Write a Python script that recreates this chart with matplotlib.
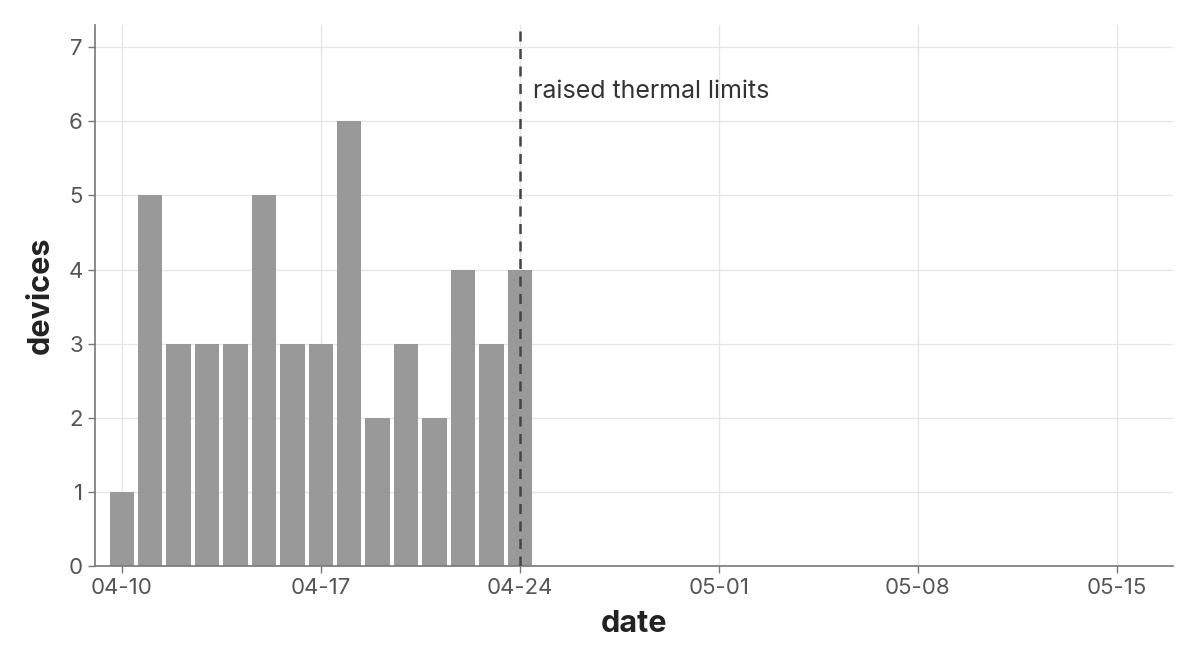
import matplotlib
matplotlib.use("Agg")
import matplotlib.pyplot as plt
import matplotlib.dates as mdates
import numpy as np
import datetime as dt

plt.rcParams['font.family'] = ['Inter', 'DejaVu Sans']

dates = [dt.date(2023, 4, 10) + dt.timedelta(days=i) for i in range(15)]
devices = [1, 5, 3, 3, 3, 5, 3, 3, 6, 2, 3, 2, 4, 3, 4]
tick_dates = [dt.date(2023, 4, 10), dt.date(2023, 4, 17), dt.date(2023, 4, 24),
              dt.date(2023, 5, 1), dt.date(2023, 5, 8), dt.date(2023, 5, 15)]
event_date = dt.date(2023, 4, 24)
event_label = "raised thermal limits"

fig = plt.figure(figsize=(12, 6.67), dpi=100)
ax = fig.add_axes([0.079, 0.1514, 0.8985, 0.8111])

x = mdates.date2num(dates)
ax.bar(x, devices, width=0.86, color='#999999', zorder=2)

ax.axvline(mdates.date2num(event_date), color='#444444', linestyle=(0, (4, 3)),
           linewidth=1.8, zorder=3)
ax.text(mdates.date2num(event_date) + 0.45, 6.4, event_label, fontsize=18,
        color='#333333', va='center', ha='left')

ax.set_xlim(mdates.date2num(dt.date(2023, 4, 10)) - 0.95,
            mdates.date2num(dt.date(2023, 5, 15)) + 1.98)
ax.set_ylim(0, 7.3)
ax.set_xticks(mdates.date2num(tick_dates))
ax.set_xticklabels([d.strftime('%m-%d') for d in tick_dates])
ax.set_yticks(range(8))

ax.grid(True, color='#e6e6e6', linewidth=1, zorder=0)
ax.set_axisbelow(True)
for s in ['top', 'right']:
    ax.spines[s].set_visible(False)
for s in ['left', 'bottom']:
    ax.spines[s].set_color('#777777')
    ax.spines[s].set_linewidth(1.2)
ax.tick_params(axis='both', colors='#777777', labelcolor='#555555',
               labelsize=16, length=5, width=1)

ax.set_xlabel('date', fontsize=22, fontweight='bold', color='#222222', labelpad=9)
ax.set_ylabel('devices', fontsize=22, fontweight='bold', color='#222222', labelpad=10)

fig.savefig('out.png', dpi=100)
